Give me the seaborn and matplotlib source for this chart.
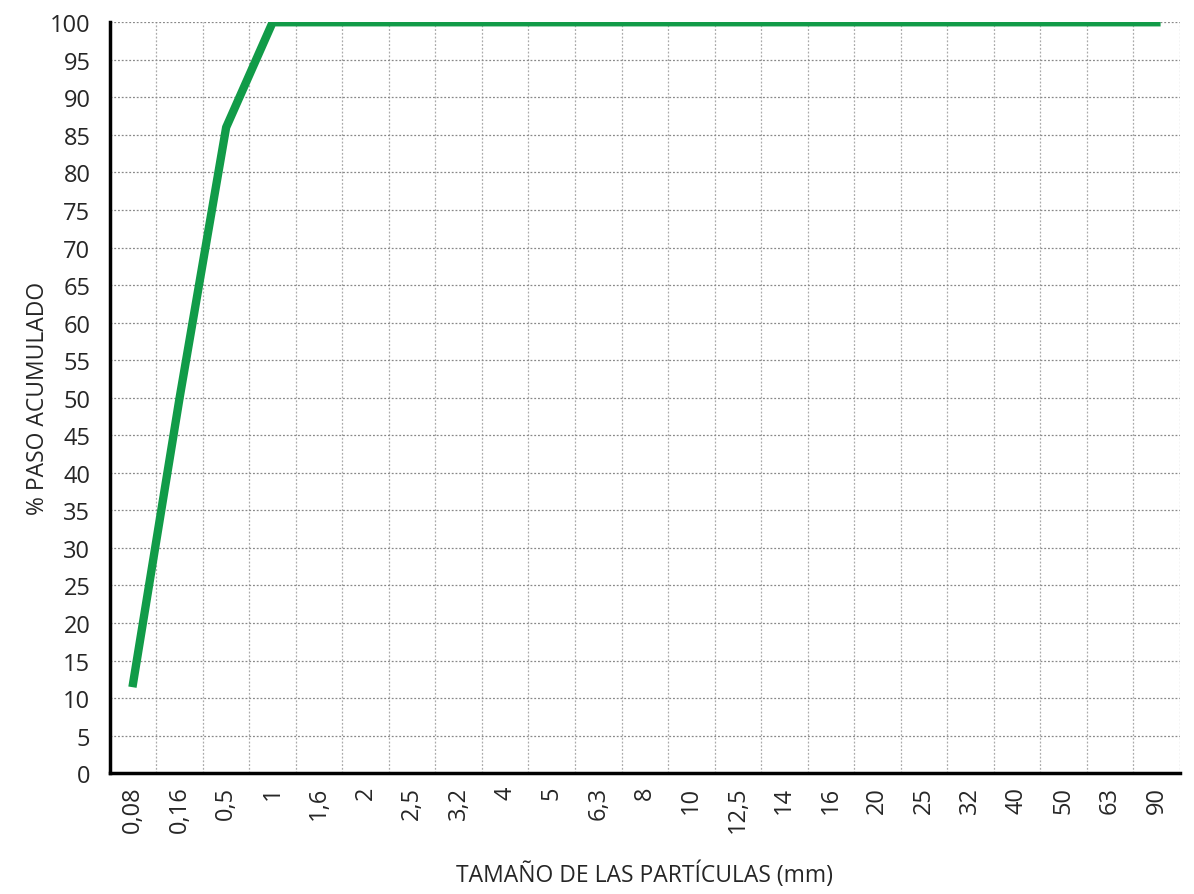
import numpy as np
import pandas as pd
import matplotlib
matplotlib.use("Agg")
import matplotlib.pyplot as plt
import seaborn as sns

# tamices (mm) y % que pasa
tamices = ["0,08", "0,16", "0,5", "1", "1,6", "2", "2,5", "3,2", "4", "5", "6,3", "8",
           "10", "12,5", "14", "16", "20", "25", "32", "40", "50", "63", "90"]
paso = [12, 50, 86, 100, 100, 100, 100, 100, 100, 100, 100, 100,
        100, 100, 100, 100, 100, 100, 100, 100, 100, 100, 100]

df = pd.DataFrame({"pos": np.arange(len(tamices)), "tamiz": tamices, "paso": paso})

sns.set_style("white")
plt.rcParams["font.family"] = ["Open Sans", "DejaVu Sans"]

fig = plt.figure(figsize=(11.94, 8.95), dpi=100)
ax = fig.add_axes([0.092, 0.135, 0.896, 0.839])

sns.lineplot(data=df, x="pos", y="paso", color="#119b48", linewidth=6,
             sort=False, ax=ax, solid_capstyle="projecting", zorder=3)

ax.set_xlim(-0.5, len(tamices) - 0.5)
ax.set_ylim(0, 100)
ax.set_xticks(df["pos"])
ax.set_xticklabels(tamices, rotation=90, fontsize=17)
ax.set_xticks(np.arange(len(tamices)) + 0.5, minor=True)
ax.set_yticks(np.arange(0, 101, 5))
ax.tick_params(axis="y", labelsize=17, length=0, pad=14)
ax.tick_params(axis="x", which="both", length=0, pad=9)

ax.grid(False)
ax.yaxis.grid(True, linestyle=(0, (1.5, 1.5)), color="#888888", linewidth=0.9)
ax.xaxis.grid(True, which="minor", linestyle=(0, (1.5, 1.5)), color="#aaaaaa", linewidth=0.9)
ax.set_axisbelow(True)

for s in ["top", "right"]:
    ax.spines[s].set_visible(False)
for s in ["left", "bottom"]:
    ax.spines[s].set_color("black")
    ax.spines[s].set_linewidth(2.5)

ax.set_ylabel("% PASO ACUMULADO", fontsize=16.5, labelpad=0)
ax.set_xlabel("TAMAÑO DE LAS PARTÍCULAS (mm)", fontsize=16.5, labelpad=20)

plt.savefig("out.png", dpi=100)
